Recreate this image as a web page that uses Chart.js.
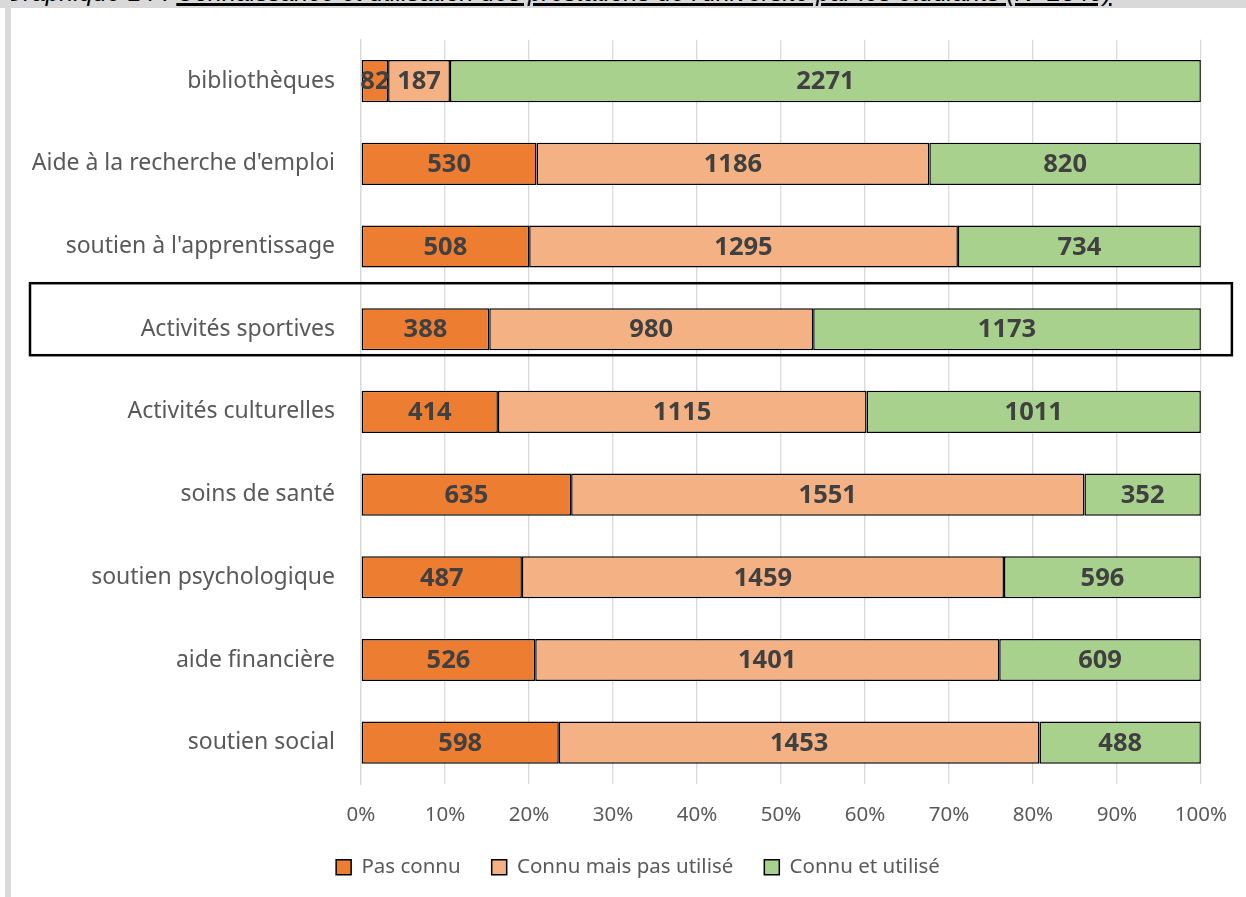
<!DOCTYPE html>
<html>
<head>
<meta charset="utf-8">
<script src="https://cdn.jsdelivr.net/npm/chart.js@4"></script>
<style>
  html, body { margin: 0; padding: 0; background: #fff; }
  #wrap { position: relative; width: 1246px; height: 897px; overflow: hidden; }
  #topband { position: absolute; left: 0; top: 0; width: 1246px; height: 8px; background: #d9d9d9; overflow: hidden; }
  #title { position: absolute; left: 4px; top: -22px; white-space: nowrap; font: italic 25px "Liberation Sans", sans-serif; color: #000; }
  #title u { text-decoration-thickness: 3px; }
  #leftbar { position: absolute; left: 5px; top: 0; width: 6px; height: 897px; background: #d9d9d9; }
  canvas { position: absolute; left: 0; top: 0; }
</style>
</head>
<body>
<div id="wrap">
  <canvas id="c" width="1246" height="897"></canvas>
  <div id="topband"><div id="title">Graphique 14 : <u>Connaissance et utilisation des prestations de l'université par les étudiants (N=2540)</u></div></div>
  <div id="leftbar"></div>
</div>
<script>
const categories = [
  "bibliothèques",
  "Aide à la recherche d'emploi",
  "soutien à l'apprentissage",
  "Activités sportives",
  "Activités culturelles",
  "soins de santé",
  "soutien psychologique",
  "aide financière",
  "soutien social"
];
const seriesNames = ["Pas connu", "Connu mais pas utilisé", "Connu et utilisé"];
const pasConnu      = [82, 530, 508, 388, 414, 635, 487, 526, 598];
const connuPasUtil  = [187, 1186, 1295, 980, 1115, 1551, 1459, 1401, 1453];
const connuUtilise  = [2271, 820, 734, 1173, 1011, 352, 596, 609, 488];
const xTicks = ["0%","10%","20%","30%","40%","50%","60%","70%","80%","90%","100%"];
const highlighted = "Activités sportives";

const colors = ["#ED7D31", "#F4B183", "#A9D18E"];
const raw = [pasConnu, connuPasUtil, connuUtilise];
const totals = categories.map((_, i) => raw.reduce((s, a) => s + a[i], 0));
const pct = raw.map(a => a.map((v, i) => v / totals[i] * 100));

const FONT = "'Noto Sans', 'Open Sans', sans-serif";

const valueLabels = {
  id: 'valueLabels',
  afterDatasetsDraw(chart) {
    const ctx = chart.ctx;
    ctx.save();
    ctx.font = "bold 25.5px " + FONT;
    ctx.fillStyle = "#404040";
    ctx.textAlign = "center";
    ctx.textBaseline = "middle";
    chart.data.datasets.forEach((ds, di) => {
      const meta = chart.getDatasetMeta(di);
      meta.data.forEach((bar, i) => {
        const x = (bar.x + bar.base) / 2;
        ctx.fillText(String(raw[di][i]), x, bar.y + 1);
      });
    });
    ctx.restore();
  }
};

const highlightBox = {
  id: 'highlightBox',
  afterDraw(chart) {
    const y = chart.scales.y;
    const idx = categories.indexOf(highlighted);
    const cy = y.getPixelForValue(idx);
    const ctx = chart.ctx;
    ctx.save();
    ctx.strokeStyle = "#000";
    ctx.lineWidth = 2.5;
    ctx.strokeRect(30, cy - 46, chart.chartArea.right + 31 - 30, 72);
    ctx.restore();
  }
};

const legendShift = {
  id: 'legendShift',
  afterLayout(chart) {
    if (chart.legend) { chart.legend.left += 37; chart.legend.right += 37; }
  }
};

new Chart(document.getElementById('c'), {
  type: 'bar',
  data: {
    labels: categories,
    datasets: seriesNames.map((n, k) => ({
      label: n,
      data: pct[k],
      backgroundColor: colors[k],
      borderColor: "#000",
      borderWidth: 1.5,
      borderSkipped: false,
      categoryPercentage: 1,
      barPercentage: 0.51
    }))
  },
  options: {
    indexAxis: 'y',
    responsive: false,
    animation: false,
    devicePixelRatio: 1,
    layout: { padding: { left: 0, right: 44, top: 37, bottom: 11 } },
    plugins: {
      legend: {
        position: 'bottom',
        maxHeight: 60,
        labels: {
          font: { family: FONT, size: 20.5 },
          color: "#595959",
          boxWidth: 15,
          boxHeight: 15,
          padding: 31,
          generateLabels(chart) {
            return chart.data.datasets.map((ds, i) => ({
              text: ds.label, fillStyle: ds.backgroundColor, strokeStyle: "#000",
              lineWidth: 1.5, datasetIndex: i, fontColor: "#595959"
            }));
          }
        }
      },
      tooltip: { enabled: false }
    },
    scales: {
      x: {
        stacked: true,
        min: 0, max: 100,
        afterFit(scale) { scale.height = 42; },
        ticks: {
          stepSize: 10,
          padding: 19,
          color: "#595959",
          font: { family: FONT, size: 20.5 },
          callback: (v, i) => xTicks[i]
        },
        grid: { color: "#d9d9d9", lineWidth: 1.3, drawTicks: false },
        border: { display: false }
      },
      y: {
        stacked: true,
        afterFit(scale) { scale.width = 361; },
        ticks: {
          padding: 26,
          color: "#595959",
          font: { family: FONT, size: 23 }
        },
        grid: { display: false, drawTicks: false },
        border: { display: true, color: "#d9d9d9", width: 1.3 }
      }
    }
  },
  plugins: [valueLabels, highlightBox, legendShift]
});
</script>
</body>
</html>
